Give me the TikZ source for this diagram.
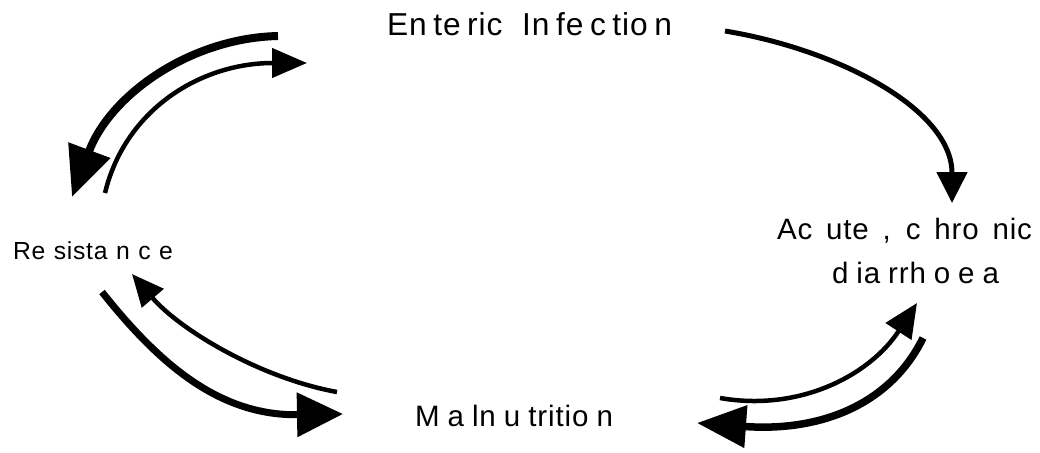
\documentclass[tikz,border=0pt]{standalone}
\usepackage{fontspec}
\setmainfont{Liberation Sans}
\newfontfamily\labfont[LetterSpace=3]{Liberation Sans}
\usetikzlibrary{arrows.meta}

\tikzset{
  label/.style={inner sep=0pt, outer sep=0pt, anchor=base west, font=\labfont},
}

\begin{document}
\begin{tikzpicture}[x=1pt, y=-1pt]
  \useasboundingbox (0,0) rectangle (1040,452);

  % the four stages of the cycle
  \node[label] (enteric) at (387,36)
    {\fontsize{31.7}{38}\selectfont\makebox[285pt][s]{En te ric\ \ \ In fe c tio n}};
  \node[label] (acute) at (777,239)
    {\fontsize{29.5}{36}\selectfont\makebox[255pt][s]{Ac ute , c hro nic}};
  \node[label] (diarr) at (832,283)
    {\fontsize{29.5}{36}\selectfont\makebox[167pt][s]{d ia rrh o e a}};
  \node[label] (resist) at (13,259)
    {\fontsize{24.7}{30}\selectfont\makebox[160pt][s]{Re sista n c e}};
  \node[label] (maln) at (415,426)
    {\fontsize{29.5}{36}\selectfont\makebox[198pt][s]{M a ln u tritio n}};

  % arrow end points
  \coordinate (e1) at (725,31);   \coordinate (a1) at (952,203);
  \coordinate (e2) at (278,36);   \coordinate (r2) at (72,197);
  \coordinate (r3) at (105,193);  \coordinate (e3) at (307,63);
  \coordinate (r4) at (102,292);  \coordinate (m4) at (343,414);
  \coordinate (m5) at (337,392);  \coordinate (r5) at (132,274);
  \coordinate (m6) at (720,398);  \coordinate (d6) at (917,303);
  \coordinate (d7) at (923,338);  \coordinate (m7) at (697,423);

  % infection leads to diarrhoea
  \draw[line width=5pt, -{Triangle[length=31pt, width=30pt]}]
    (e1) .. controls (840,50) and (952,110) .. (a1);

  % infection <-> resistance
  \draw[line width=8pt, -{Triangle[length=50pt, width=43pt]}]
    (e2) .. controls (190,38) and (110,95) .. (r2);
  \draw[line width=4.5pt, -{Triangle[length=35pt, width=29pt]}]
    (r3) .. controls (125,110) and (200,63) .. (e3);

  % resistance <-> malnutrition
  \draw[line width=7pt, -{Triangle[length=46pt, width=43pt]}]
    (r4) .. controls (160,365) and (220,416) .. (m4);
  \draw[line width=4.5pt, -{Triangle[length=32pt, width=28pt]}]
    (m5) .. controls (260,378) and (180,330) .. (r5);

  % malnutrition <-> diarrhoea
  \draw[line width=4.5pt, -{Triangle[length=34pt, width=30pt]}]
    (m6) .. controls (800,412) and (870,375) .. (d6);
  \draw[line width=7.5pt, -{Triangle[length=49pt, width=41pt]}]
    (d7) .. controls (890,405) and (820,432) .. (m7);
\end{tikzpicture}
\end{document}
